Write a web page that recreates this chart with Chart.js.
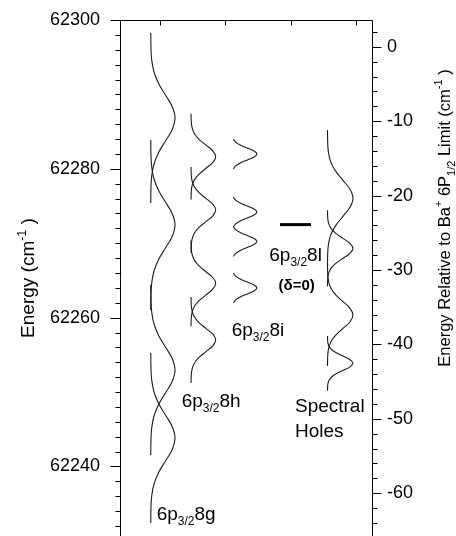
<!DOCTYPE html>
<html><head><meta charset="utf-8">
<script src="https://cdn.jsdelivr.net/npm/chart.js@4.4.1/dist/chart.umd.min.js"></script>
<style>html,body{margin:0;padding:0;background:#fff;overflow:hidden}</style>
</head><body>
<canvas id="c" width="456" height="536"></canvas>
<script>
// ---- axis ranges and tick labels ----
const energyMin = 62230.65, energyMax = 62300;
const limitEnergy = 62296.4;               // Ba+ 6P1/2 limit on the left scale
const leftTickLabels = [62240, 62260, 62280, 62300];
const rightTickLabels = [0, -10, -20, -30, -40, -50, -60];
const xTickValues = [0, 10, 20, 30];

// ---- 6p3/2 8g profiles (energy in cm-1, signal in arb. units) ----
const g8Energy = [
  [62298.26, 62296.10, 62294.56, 62293.01, 62291.47, 62289.92, 62288.38, 62286.83, 62285.29, 62283.74, 62282.20, 62280.65, 62279.11, 62277.56, 62275.40],
  [62283.88, 62281.72, 62280.18, 62278.63, 62277.09, 62275.54, 62274.00, 62272.45, 62270.91, 62269.36, 62267.82, 62266.27, 62264.73, 62263.18, 62261.02],
  [62264.39, 62262.23, 62260.69, 62259.14, 62257.60, 62256.05, 62254.51, 62252.96, 62251.42, 62249.87, 62248.33, 62246.78, 62245.24, 62243.69, 62241.53],
  [62255.25, 62253.09, 62251.55, 62250.00, 62248.46, 62246.91, 62245.37, 62243.82, 62242.28, 62240.73, 62239.19, 62237.64, 62236.10, 62234.55, 62232.39]
];
const g8Signal = [-1.416, -1.379, -1.257, -0.917, -0.212, 0.836, 1.863, 2.30, 1.863, 0.836, -0.212, -0.917, -1.257, -1.379, -1.416];

// ---- 6p3/2 8h ----
const h8Energy = [
  [62287.40, 62286.31, 62285.53, 62284.75, 62283.97, 62283.19, 62282.41, 62281.63, 62280.85, 62280.07, 62279.29, 62278.51, 62277.73, 62276.95, 62275.86],
  [62280.23, 62279.14, 62278.36, 62277.58, 62276.80, 62276.02, 62275.24, 62274.46, 62273.68, 62272.90, 62272.12, 62271.34, 62270.56, 62269.78, 62268.69],
  [62270.38, 62269.29, 62268.51, 62267.73, 62266.95, 62266.17, 62265.39, 62264.61, 62263.83, 62263.05, 62262.27, 62261.49, 62260.71, 62259.93, 62258.84],
  [62262.76, 62261.67, 62260.89, 62260.11, 62259.33, 62258.55, 62257.77, 62256.99, 62256.21, 62255.43, 62254.65, 62253.87, 62253.09, 62252.31, 62251.22]
];
const h8Signal = [4.754, 4.792, 4.916, 5.261, 5.977, 7.043, 8.086, 8.53, 8.086, 7.043, 5.977, 5.261, 4.916, 4.792, 4.754];

// ---- 6p3/2 8i ----
const i8Energy = [
  [62283.99, 62283.59, 62283.19, 62282.79, 62282.39, 62281.99, 62281.59, 62281.19, 62280.79, 62280.39, 62279.99],
  [62276.19, 62275.79, 62275.39, 62274.99, 62274.59, 62274.19, 62273.79, 62273.39, 62272.99, 62272.59, 62272.19],
  [62272.23, 62271.83, 62271.43, 62271.03, 62270.63, 62270.23, 62269.83, 62269.43, 62269.03, 62268.63, 62268.23],
  [62265.98, 62265.58, 62265.18, 62264.78, 62264.38, 62263.98, 62263.58, 62263.18, 62262.78, 62262.38, 62261.98]
];
const i8Signal = [11.236, 11.581, 12.297, 13.363, 14.406, 14.85, 14.406, 13.363, 12.297, 11.581, 11.236];

// ---- 6p3/2 8l (delta = 0) level ----
const l8Energy = [62272.5, 62272.5];
const l8Signal = [18.38, 23.12];

// ---- spectral holes ----
const holeEnergy = [
  [62285.23, 62283.29, 62282.08, 62280.87, 62279.66, 62278.45, 62277.24, 62276.03, 62274.82, 62273.61, 62272.40, 62271.19, 62269.98, 62268.77, 62266.83],
  [62274.42, 62273.34, 62272.67, 62272.00, 62271.33, 62270.65, 62269.98, 62269.31, 62268.64, 62267.97, 62267.29, 62266.62, 62265.95, 62265.28, 62264.20],
  [62267.19, 62265.75, 62264.85, 62263.95, 62263.05, 62262.15, 62261.25, 62260.35, 62259.45, 62258.55, 62257.65, 62256.75, 62255.85, 62254.95, 62253.51],
  [62257.54, 62256.76, 62256.28, 62255.80, 62255.31, 62254.83, 62254.34, 62253.86, 62253.38, 62252.89, 62252.41, 62251.92, 62251.44, 62250.96, 62250.18]
];
const holeSignal = [25.653, 25.693, 25.822, 26.179, 26.92, 28.021, 29.101, 29.56, 29.101, 28.021, 26.92, 26.179, 25.822, 25.693, 25.653];

// ---- build chart ----
const FONT = '"Liberation Sans", Arial, Helvetica, sans-serif';
const datasets = [];
function addColumn(energyList, signal) {
  energyList.forEach(en => datasets.push({
    data: en.map((e, i) => ({x: signal[i], y: e})),
    borderColor: '#1c1c1c', borderWidth: 1.1, pointRadius: 0,
    showLine: true, tension: 0.4, fill: false
  }));
}
addColumn(g8Energy, g8Signal);
addColumn(h8Energy, h8Signal);
addColumn(i8Energy, i8Signal);
addColumn(holeEnergy, holeSignal);
datasets.push({
  data: l8Energy.map((e, i) => ({x: l8Signal[i], y: e})),
  borderColor: '#000', borderWidth: 3, pointRadius: 0, showLine: true, tension: 0
});

const labels = [
  {x: -0.51, y: 62232.80, parts: [['6p', 19, 0], ['3/2', 12, 5], ['8g', 19, 0]]},
  {x: 3.32,  y: 62247.98, parts: [['6p', 19, 0], ['3/2', 12, 5], ['8h', 19, 0]]},
  {x: 10.98, y: 62257.53, parts: [['6p', 19, 0], ['3/2', 12, 5], ['8i', 19, 0]]},
  {x: 16.74, y: 62267.61, parts: [['6p', 19, 0], ['3/2', 12, 5], ['8l', 19, 0]]},
  {x: 20.93, y: 62263.71, center: true, parts: [['(\u03B4=0)', 15, 0, 'bold']]},
  {x: 20.67, y: 62247.31, parts: [['Spectral', 19, 0]]},
  {x: 20.67, y: 62243.95, parts: [['Holes', 19, 0]]}
];

function setFont(ctx, p) { ctx.font = (p[3] ? p[3] + ' ' : '') + p[1] + 'px ' + FONT; }
function drawRich(ctx, parts, x, y, center, rot) {
  ctx.save();
  ctx.translate(x, y);
  if (rot) ctx.rotate(rot);
  let w = 0;
  parts.forEach(p => { setFont(ctx, p); w += ctx.measureText(p[0]).width; });
  let cx = center ? -w / 2 : 0;
  ctx.textAlign = 'left'; ctx.textBaseline = 'alphabetic'; ctx.fillStyle = '#000';
  parts.forEach(p => { setFont(ctx, p); ctx.fillText(p[0], cx, p[2]); cx += ctx.measureText(p[0]).width; });
  ctx.restore();
}
const isStep = (v, s) => Math.abs(v / s - Math.round(v / s)) < 1e-6;

const framePlugin = {
  id: 'frame',
  afterDraw(chart) {
    const {ctx, chartArea: ca, scales} = chart;
    ctx.save();
    ctx.strokeStyle = '#000'; ctx.lineWidth = 1;
    const L = Math.round(ca.left) + 0.5, R = Math.round(ca.right) + 0.5, T = Math.round(ca.top) + 0.5, B = ca.bottom + 1;
    ctx.beginPath();
    ctx.moveTo(L, B); ctx.lineTo(L, T); ctx.lineTo(R, T); ctx.lineTo(R, B);
    scales.y.ticks.forEach(t => {
      const v = t.value; if (!isStep(v, 2)) return;
      const p = Math.round(scales.y.getPixelForValue(v)) + 0.5;
      const len = isStep(v, 20) ? 10 : 5;
      ctx.moveTo(L - len, p); ctx.lineTo(L, p);
    });
    scales.y2.ticks.forEach(t => {
      const v = t.value; if (!isStep(v, 2)) return;
      const p = Math.round(scales.y2.getPixelForValue(v)) + 0.5;
      const len = isStep(v, 10) ? 9 : 5;
      ctx.moveTo(R, p); ctx.lineTo(R + len, p);
    });
    xTickValues.forEach(v => {
      const p = Math.round(scales.x.getPixelForValue(v)) + 0.5;
      ctx.moveTo(p, T); ctx.lineTo(p, T + 5);
    });
    ctx.stroke();
    ctx.restore();

    // axis titles
    const midL = (ca.top + ca.bottom) / 2;
    drawRich(ctx, [['Energy (cm', 19, 0], ['-1', 12.5, -8], [' )', 19, 0]], 34, midL, true, -Math.PI / 2);
    drawRich(ctx, [['Energy Relative to Ba', 16.5, 0], ['+', 11, -8], [' 6P', 16.5, 0], ['1/2', 11, 5],
                   [' Limit (cm', 16.5, 0], ['-1', 11, -8], [' )', 16.5, 0]], 450, 218, true, -Math.PI / 2);
    // annotations
    labels.forEach(l => {
      drawRich(ctx, l.parts, scales.x.getPixelForValue(l.x), scales.y.getPixelForValue(l.y), !!l.center, 0);
    });
  }
};

const noLabelPadding = s => { s.paddingTop = 0; s.paddingBottom = 0; };

new Chart(document.getElementById('c'), {
  type: 'scatter',
  data: {datasets},
  options: {
    responsive: false, animation: false, devicePixelRatio: 1,
    layout: {autoPadding: false, padding: {top: 20, left: 0, right: 0, bottom: 0}},
    plugins: {legend: {display: false}, tooltip: {enabled: false}},
    scales: {
      x: {type: 'linear', min: -6.126, max: 32.47, display: false},
      y: {
        type: 'linear', position: 'left', min: energyMin, max: energyMax,
        ticks: {stepSize: 2, includeBounds: false, autoSkip: false, padding: 20, color: '#000',
                font: {family: FONT, size: 18},
                callback: v => leftTickLabels.includes(v) ? String(v) : ''},
        grid: {display: false, drawTicks: false}, border: {display: false},
        afterFit: s => { s.width = 120; noLabelPadding(s); }
      },
      y2: {
        type: 'linear', position: 'right', min: energyMin - limitEnergy, max: energyMax - limitEnergy,
        ticks: {stepSize: 2, includeBounds: false, autoSkip: false, padding: 15, color: '#000',
                font: {family: FONT, size: 18},
                callback: v => (isStep(v, 1) && rightTickLabels.includes(Math.round(v))) ? String(Math.round(v)) : ''},
        grid: {display: false, drawTicks: false}, border: {display: false},
        afterFit: s => { s.width = 84; noLabelPadding(s); }
      }
    }
  },
  plugins: [framePlugin]
});
</script>
</body></html>
